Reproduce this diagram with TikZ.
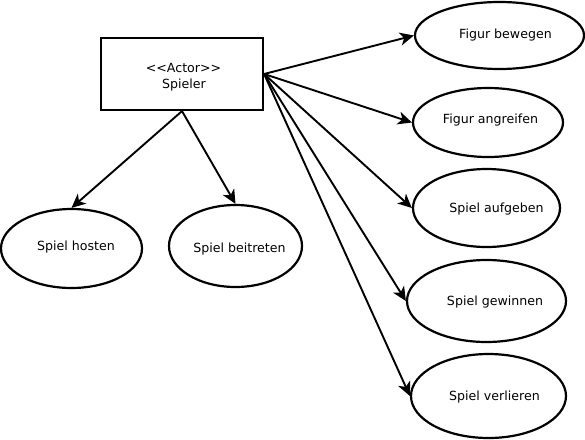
\documentclass[tikz,border=0pt]{standalone}
\usepackage{fontspec}
\setmainfont{DejaVu Sans}
\usetikzlibrary{shapes.geometric,arrows.meta}

\tikzset{
  usecase/.style={draw, line width=2.2pt, ellipse, inner sep=0pt},
  actorbox/.style={draw, line width=2.2pt, rectangle, inner sep=0pt},
  assoc/.style={line width=1.9pt, -{Stealth[length=14pt,width=13pt,inset=4pt]}},
  casetext/.style={inner sep=0pt, text height=9pt, text depth=0pt,
    font=\fontsize{12.6}{14}\selectfont}
}

\begin{document}
\begin{tikzpicture}[x=1pt, y=-1pt]
  \useasboundingbox (0,0) rectangle (585,439);

  %% actor
  \node[actorbox, minimum width=162pt, minimum height=72pt] (spieler) at (182,74) {};
  \node[casetext] (actortag) at (183.5,68) {<\kern0pt<Actor>\kern0pt>};
  \node[casetext] (actorname) at (184,83.5) {Spieler};

  %% use cases right
  \node[usecase, minimum width=169pt, minimum height=67pt] (bewegen) at (499.5,35.5) {};
  \node[usecase, minimum width=150pt, minimum height=69pt] (angreifen) at (488,122.5) {};
  \node[usecase, minimum width=147pt, minimum height=78pt] (aufgeben) at (486.5,208) {};
  \node[usecase, minimum width=159pt, minimum height=82pt] (gewinnen) at (486.5,301) {};
  \node[usecase, minimum width=155pt, minimum height=84pt] (verlieren) at (488.5,396) {};

  %% use cases below
  \node[usecase, minimum width=141pt, minimum height=79pt] (hosten) at (71.5,248.5) {};
  \node[usecase, minimum width=133pt, minimum height=82pt] (beitreten) at (235.5,246) {};

  %% labels
  \node[casetext] at (505.5,33.5) {Figur bewegen};
  \node[casetext] at (490.5,119) {Figur angreifen};
  \node[casetext] at (496.5,207.5) {Spiel aufgeben};
  \node[casetext] at (495,300.5) {Spiel gewinnen};
  \node[casetext] at (494.5,395.5) {Spiel verlieren};
  \node[casetext] at (76,245.5) {Spiel hosten};
  \node[casetext] at (239.5,247.5) {Spiel beitreten};

  %% associations
  \draw[assoc] (spieler.east) -- (bewegen.west);
  \draw[assoc] (spieler.east) -- (angreifen.west);
  \draw[assoc] (spieler.east) -- (aufgeben.west);
  \draw[assoc] (spieler.east) -- (gewinnen.west);
  \draw[assoc] (spieler.east) -- (verlieren.west);
  \draw[assoc] (spieler.south) -- (hosten.north);
  \draw[assoc] (spieler.south) -- (beitreten.north);

\end{tikzpicture}
\end{document}
